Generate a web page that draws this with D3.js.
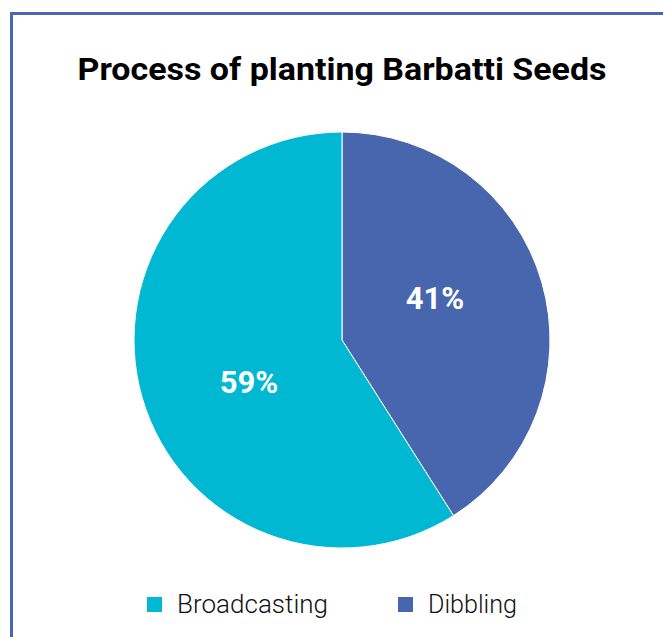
<!DOCTYPE html>
<html>
<head>
<meta charset="utf-8">
<script src="https://cdn.jsdelivr.net/npm/d3@7"></script>
<style>
  html, body { margin: 0; padding: 0; background: #ffffff; }
  svg { display: block; }
</style>
</head>
<body>
<svg id="chart" width="663" height="637"></svg>
<script>
// Chart data
const categories = ["Broadcasting", "Dibbling"];
const shares = [59, 41];
const sliceColors = ["#00b8d1", "#4766ae"];
const titleText = "Process of planting Barbatti Seeds";

const svg = d3.select("#chart");
const W = 663, H = 637;

// Frame: open on the right and bottom edges
svg.append("path")
  .attr("d", `M11.5,${H + 2} L11.5,13.5 L${W + 2},13.5`)
  .attr("fill", "none")
  .attr("stroke", "#4a67b0")
  .attr("stroke-width", 3);

// Title
svg.append("text")
  .attr("x", 342)
  .attr("y", 80)
  .attr("text-anchor", "middle")
  .attr("font-family", "Roboto, 'Noto Sans', sans-serif")
  .attr("font-weight", 700)
  .attr("font-size", 32)
  .attr("textLength", 529)
  .attr("lengthAdjust", "spacingAndGlyphs")
  .attr("fill", "#000")
  .text(titleText);

// Pie
const cx = 342, cy = 340, R = 208;
const rows = categories.map((c, i) => ({ name: c, value: shares[i], color: sliceColors[i] }));

// Dibbling starts at 12 o'clock and runs clockwise; Broadcasting fills the rest
const pie = d3.pie()
  .value(d => d.value)
  .sort(null)
  .startAngle(0)
  .endAngle(2 * Math.PI);
const ordered = [rows[1], rows[0]];
const arcs = pie(ordered);

const arc = d3.arc().innerRadius(0).outerRadius(R);

// Percent labels sit slightly counterclockwise of each slice's mid-angle
const labelRadius = R * 0.49;
const labelTurn = -8 * Math.PI / 180;
function labelPos(d) {
  const a = (d.startAngle + d.endAngle) / 2 + labelTurn;
  return [labelRadius * Math.sin(a), -labelRadius * Math.cos(a)];
}

const g = svg.append("g").attr("transform", `translate(${cx},${cy})`);

g.selectAll("path.slice")
  .data(arcs)
  .join("path")
  .attr("class", "slice")
  .attr("d", arc)
  .attr("fill", d => d.data.color)
  .attr("stroke", "#ffffff")
  .attr("stroke-width", 1);

g.selectAll("text.pct")
  .data(arcs)
  .join("text")
  .attr("class", "pct")
  .attr("transform", d => {
    const [x, y] = labelPos(d);
    return `translate(${x},${y})`;
  })
  .attr("text-anchor", "middle")
  .attr("dy", "0.36em")
  .attr("font-family", "Roboto, 'Noto Sans', sans-serif")
  .attr("font-weight", 700)
  .attr("font-size", 31)
  .attr("fill", "#ffffff")
  .text(d => d.data.value + "%");

// Legend
const legendX = d3.scalePoint().domain(categories).range([147, 398]);
const legend = svg.append("g");
const items = legend.selectAll("g.item")
  .data(rows)
  .join("g")
  .attr("class", "item")
  .attr("transform", d => `translate(${legendX(d.name)},597)`);

items.append("rect")
  .attr("width", 15)
  .attr("height", 15)
  .attr("fill", d => d.color);

items.append("text")
  .attr("x", 30)
  .attr("y", 16)
  .attr("font-family", "Roboto, 'Noto Sans', sans-serif")
  .attr("font-weight", 300)
  .attr("font-size", 25)
  .attr("textLength", d => d.name === "Broadcasting" ? 151 : 89)
  .attr("lengthAdjust", "spacingAndGlyphs")
  .attr("fill", "#111")
  .text(d => d.name);
</script>
</body>
</html>
